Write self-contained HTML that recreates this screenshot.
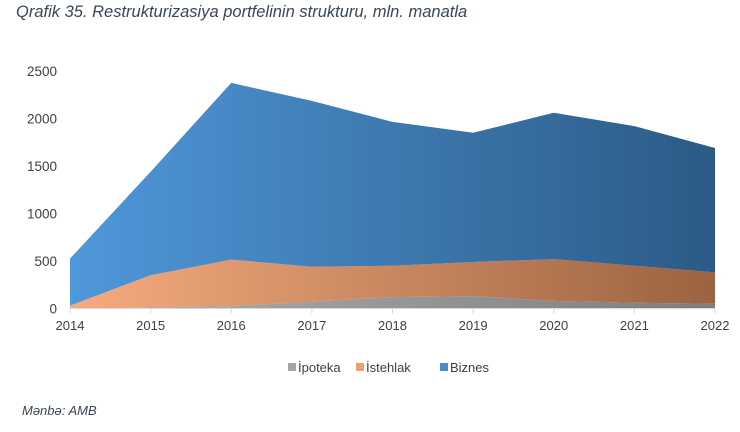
<!DOCTYPE html>
<html><head><meta charset="utf-8">
<style>
body{margin:0;background:#fff;width:740px;height:432px;overflow:hidden;font-family:"Liberation Sans",sans-serif;}
.t{position:absolute;left:16px;top:3px;font-size:16.5px;font-style:italic;color:#3a4656;}
.s{position:absolute;left:22px;top:403px;font-size:13px;font-style:italic;color:#3a4656;}
</style></head><body>
<div class="t">Qrafik 35. Restrukturizasiya portfelinin strukturu, mln. manatla</div>
<svg id="c" width="740" height="432" style="position:absolute;left:0;top:0">
<defs>
<linearGradient id="gb" x1="0" x2="1"><stop offset="0" stop-color="#4f98da"/><stop offset="1" stop-color="#2c5a86"/></linearGradient>
<linearGradient id="go" x1="0" x2="1"><stop offset="0" stop-color="#f6ab7e"/><stop offset="1" stop-color="#9b6341"/></linearGradient>
<linearGradient id="gg" x1="0" x2="1"><stop offset="0" stop-color="#b0b0b0"/><stop offset="1" stop-color="#7d7d7d"/></linearGradient>
</defs>
</svg>
<div class="s">Mənbə: AMB</div>
<script>
const years=[2014,2015,2016,2017,2018,2019,2020,2021,2022];
const ipoteka=[0,10,25,70,120,130,80,60,50];
const istehlak=[30,340,490,370,330,360,440,390,330];
const biznes=[495,1090,1860,1745,1515,1360,1540,1470,1310];
const yTicks=[0,500,1000,1500,2000,2500];
const names=['İpoteka','İstehlak','Biznes'];
const ids=['ipoteka','istehlak','biznes'];
const fills=['url(#gg)','url(#go)','url(#gb)'];
const legCol=['#a5a5a5','#f0a070','#4a8ad0'];
const svg=document.getElementById('c'),NS='http://www.w3.org/2000/svg';
const x0=70,x1=715,y0=308.5,yTop=71,yMax=2500;
const X=i=>x0+(x1-x0)*i/(years.length-1);
const Y=v=>y0-(y0-yTop)*v/yMax;
function mk(t,a){const e=document.createElementNS(NS,t);for(const k in a)e.setAttribute(k,a[k]);svg.appendChild(e);return e;}
yTicks.forEach(v=>{const e=mk('text',{x:57,y:Y(v)+5,'text-anchor':'end','font-size':13.5,fill:'#404040'});e.textContent=v;

});
const series=[ipoteka,istehlak,biznes];
let base=years.map(()=>0);
series.forEach((s,k)=>{const top=base.map((b,i)=>b+s[i]);
let d='M'+years.map((_,i)=>X(i)+','+Y(top[i])).join('L');
for(let i=years.length-1;i>=0;i--)d+='L'+X(i)+','+Y(base[i]);
const p=mk('path',{d:d+'Z',fill:fills[k]});


base=top;});
const ax=mk('line',{x1:x0,x2:x1,y1:y0,y2:y0,stroke:'#d9d9d9','stroke-width':1});


years.forEach((yr,i)=>{const tk=mk('line',{x1:X(i),x2:X(i),y1:y0,y2:y0+5,stroke:'#d9d9d9'});


const e=mk('text',{x:X(i),y:330,'text-anchor':'middle','font-size':13,fill:'#404040'});e.textContent=yr;

});
const lx=[288,356,440];
names.forEach((n,k)=>{const r=mk('rect',{x:lx[k],y:363,width:8,height:8,fill:legCol[k]});


const e=mk('text',{x:lx[k]+10,y:372,'font-size':13,fill:'#404040'});e.textContent=n;

});
</script>
</body></html>
